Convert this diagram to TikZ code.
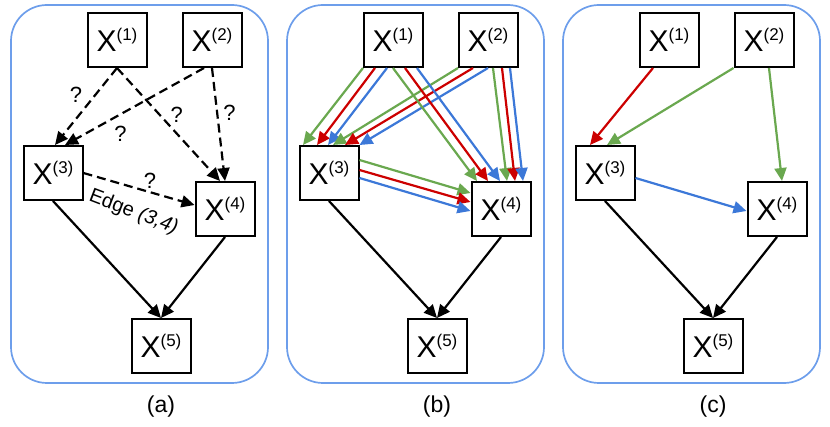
\documentclass[tikz,border=0pt]{standalone}
\usepackage{fontspec}
\setmainfont{Liberation Sans}
\usetikzlibrary{arrows.meta}

\definecolor{panelblue}{HTML}{6D9EEB}
\definecolor{edgegreen}{HTML}{6AA84F}
\definecolor{edgered}{HTML}{CC0000}
\definecolor{edgeblue}{HTML}{3C78D8}

\newcommand{\xvar}[1]{X\raisebox{11pt}{\fontsize{17}{17}\selectfont(#1)}}

\tikzset{
  box/.style={draw, line width=2pt, minimum width=59pt, minimum height=54pt,
    inner sep=0pt, font=\fontsize{30}{31}\selectfont},
  arr/.style={-{Triangle[length=13pt,width=12pt]}, line width=2.2pt},
  qarr/.style={arr, dash pattern=on 9pt off 5pt},
  panel/.style={draw=panelblue, line width=1.7pt, rounded corners=36pt},
  caption/.style={font=\fontsize{23}{24}\selectfont},
  qmark/.style={inner sep=0pt, font=\fontsize{22}{23}\selectfont}
}

\begin{document}
\begin{tikzpicture}[x=1pt,y=-1pt]
    \useasboundingbox (0,0) rectangle (830,427);

    % (a)
    \draw[panel] (11,5) rectangle (268,383);
      \node[box] (a1) at (117,40) {\xvar{1}};
      \node[box] (a2) at (212,40) {\xvar{2}};
      \node[box] (a3) at (53,173) {\xvar{3}};
      \node[box] (a4) at (225,209) {\xvar{4}};
      \node[box] (a5) at (161,346) {\xvar{5}};
      \node[caption] (la) at (161,407) {(a)};

      \draw[qarr] (a1.south) -- ([xshift=2pt]a3.north) node[qmark, pos=0.35, left=12pt]{?};
      \draw[qarr] ([xshift=-8pt]a2.south) -- ([xshift=12pt]a3.north) node[qmark, pos=0.6, below=11pt]{?};
      \draw[qarr] (a1.south) -- ([xshift=-5pt]a4.north) node[qmark, pos=0.5, above right=1pt]{?};
      \draw[qarr] (a2.south) -- (a4.north) node[qmark, pos=0.4, right=5pt]{?};
      \draw[qarr] (a3.east) -- ([yshift=4pt]a4.west) node[qmark, pos=0.6, above=3pt]{?}
        node[pos=0.45, yshift=-25pt, rotate=-21, font=\fontsize{20}{21}\selectfont]{Edge \textit{(3,4)}};

      \draw[arr] (a3.south) -- (a5.north);
      \draw[arr] (a4.south) -- (a5.north);

    % (b)
    \draw[panel] (287,5) rectangle (544,383);
      \node[box] (b1) at (393,40) {\xvar{1}};
      \node[box] (b2) at (488,40) {\xvar{2}};
      \node[box] (b3) at (329,173) {\xvar{3}};
      \node[box] (b4) at (501,209) {\xvar{4}};
      \node[box] (b5) at (437,346) {\xvar{5}};
      \node[caption] (lb) at (437,407) {(b)};

      \draw[arr, edgegreen] ([xshift=-30pt]b1.south) -- ([xshift=-26pt]b3.north);
      \draw[arr, edgered] ([xshift=-18pt]b1.south) -- ([xshift=-12pt]b3.north);
      \draw[arr, edgeblue] ([xshift=-6pt]b1.south) -- ([xshift=-1pt]b3.north);

      \draw[arr, edgegreen] ([xshift=-30pt]b2.south) -- ([xshift=4pt]b3.north);
      \draw[arr, edgered] ([xshift=-15pt]b2.south) -- ([xshift=16pt]b3.north);
      \draw[arr, edgeblue] (b2.south) -- (b3.north east);

      \draw[arr, edgegreen] (b1.south) -- ([xshift=-24pt]b4.north);
      \draw[arr, edgered] ([xshift=12pt]b1.south) -- ([xshift=-13pt]b4.north);
      \draw[arr, edgeblue] ([xshift=24pt]b1.south) -- ([xshift=-1pt]b4.north);

      \draw[arr, edgegreen] ([xshift=5pt]b2.south) -- ([xshift=6pt]b4.north);
      \draw[arr, edgered] ([xshift=14pt]b2.south) -- ([xshift=14pt]b4.north);
      \draw[arr, edgeblue] ([xshift=22pt]b2.south) -- ([xshift=22pt]b4.north);

      \draw[arr, edgegreen] ([yshift=13pt]b3.east) -- ([yshift=16pt]b4.west);
      \draw[arr, edgered] ([yshift=3pt]b3.east) -- ([yshift=7pt]b4.west);
      \draw[arr, edgeblue] ([yshift=-5pt]b3.east) -- ([yshift=-2pt]b4.west);

      \draw[arr] (b3.south) -- (b5.north);
      \draw[arr] (b4.south) -- (b5.north);

    % (c)
    \draw[panel] (563,5) rectangle (820,383);
      \node[box] (c1) at (669,40) {\xvar{1}};
      \node[box] (c2) at (764,40) {\xvar{2}};
      \node[box] (c3) at (605,173) {\xvar{3}};
      \node[box] (c4) at (777,209) {\xvar{4}};
      \node[box] (c5) at (713,346) {\xvar{5}};
      \node[caption] (lc) at (713,407) {(c)};

      \draw[arr, edgered] ([xshift=-16pt]c1.south) -- ([xshift=-15pt]c3.north);
      \draw[arr, edgegreen] (c2.south west) -- ([xshift=2pt]c3.north);
      \draw[arr, edgegreen] ([xshift=5pt]c2.south) -- ([xshift=5pt]c4.north);
      \draw[arr, edgeblue] ([yshift=-5pt]c3.east) -- ([yshift=-2pt]c4.west);

      \draw[arr] (c3.south) -- (c5.north);
      \draw[arr] (c4.south) -- (c5.north);
  \end{tikzpicture}
\end{document}
